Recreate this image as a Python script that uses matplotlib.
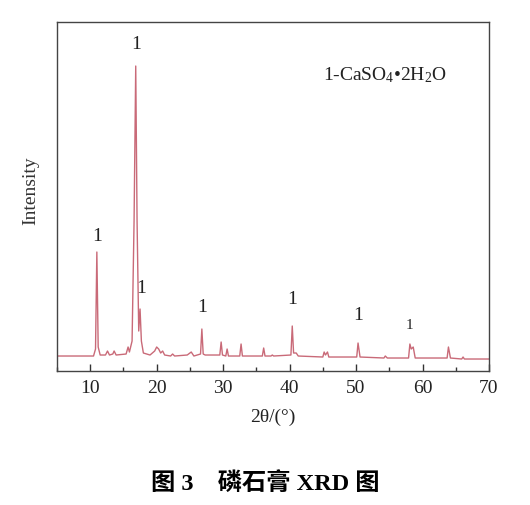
import matplotlib
matplotlib.use("Agg")
import matplotlib.pyplot as plt
from matplotlib.ticker import MultipleLocator

plt.rcParams['font.family'] = ['Liberation Serif', 'Noto Sans CJK SC', 'DejaVu Sans']
plt.rcParams['mathtext.fontset'] = 'custom'
plt.rcParams['mathtext.rm'] = 'Liberation Serif'
plt.rcParams['mathtext.it'] = 'Liberation Serif:italic'

# XRD pattern (2theta in degrees, intensity in arbitrary units)
two_theta = [5.0, 10.5, 10.8, 11.0, 11.2, 11.5, 12.3, 12.6, 12.9, 13.4, 13.6, 13.9,
             15.4, 15.7, 15.9, 16.3, 16.6, 16.85, 17.05, 17.3, 17.5, 17.7, 18.0,
             19.0, 19.7, 20.0, 20.3, 20.6, 20.9, 21.2, 22.1, 22.4, 22.7, 24.6, 25.2,
             25.6, 26.6, 26.8, 27.0, 27.3, 29.5, 29.7, 29.9, 30.4, 30.6, 30.8, 32.5,
             32.7, 32.9, 35.9, 36.1, 36.3, 37.2, 37.4, 37.6, 40.2, 40.4, 40.6, 41.0,
             41.3, 45.0, 45.2, 45.4, 45.7, 45.9, 50.1, 50.3, 50.6, 54.2, 54.4, 54.7,
             57.9, 58.1, 58.3, 58.6, 58.9, 63.7, 63.9, 64.2, 65.9, 66.1, 66.3, 70.0]
intensity = [15, 15, 22, 119, 24, 16, 16, 20, 16, 17, 20, 16,
             17, 24, 19, 30, 150, 305, 150, 40, 62, 30, 18,
             16, 20, 24, 22, 18, 20, 16, 15, 17, 15, 16, 19,
             15, 17, 42, 17, 16, 16, 29, 16, 15, 22, 15, 15,
             27, 15, 15, 23, 15, 15, 16, 15, 16, 45, 18, 18,
             15, 14, 19, 16, 19, 14, 14, 28, 14, 13, 15, 13,
             13, 27, 22, 24, 13, 13, 24, 13, 12, 14, 12, 12]

# phase labels "1" (position, label height)
label_pos = [11.0, 16.85, 17.6, 26.8, 40.4, 50.3, 58.1]
label_y = [127, 319, 75, 56, 64, 48, 40]
label_size = [14, 14, 14, 14, 14, 14, 11]

legend_text = r'1-CaSO$_4$•2H$_2$O'
caption = '图 3　磷石膏 XRD 图'

fig = plt.figure(figsize=(5.30, 5.06), dpi=100)
ax = fig.add_axes([0.1075, 0.2648, 0.8151, 0.6897])

ax.plot(two_theta, intensity, color='#c96a78', lw=1.0)

for x, y, s in zip(label_pos, label_y, label_size):
    ax.text(x, y, '1', ha='center', va='bottom', fontsize=s, color='#222222')

ax.text(0.615, 0.85, legend_text, transform=ax.transAxes, fontsize=14,
        ha='left', va='center', color='#222222')

ax.set_xlim(5, 70)
ax.set_ylim(0, 349)
ax.set_yticks([])
ax.xaxis.set_major_locator(MultipleLocator(10))
ax.xaxis.set_minor_locator(MultipleLocator(5))
ax.tick_params(axis='x', which='major', direction='in', length=5, width=1,
               labelsize=14, pad=6, colors='#333333')
ax.tick_params(axis='x', which='minor', direction='in', length=3, width=1, colors='#333333')
ax.tick_params(axis='x', labelcolor='#222222')
for sp in ax.spines.values():
    sp.set_color('#444444')
    sp.set_linewidth(1.0)

ax.set_xlabel('2θ/(°)', fontsize=14, color='#222222', labelpad=8)
ax.set_ylabel('Intensity', fontsize=14, color='#333333')
ax.yaxis.set_label_coords(-0.04, 0.52)

fig.text(0.5, 1 - 483 / 506, caption, ha='center', va='center', fontsize=17.5,
         fontweight='bold', color='black')

fig.savefig('out.png', dpi=100)
